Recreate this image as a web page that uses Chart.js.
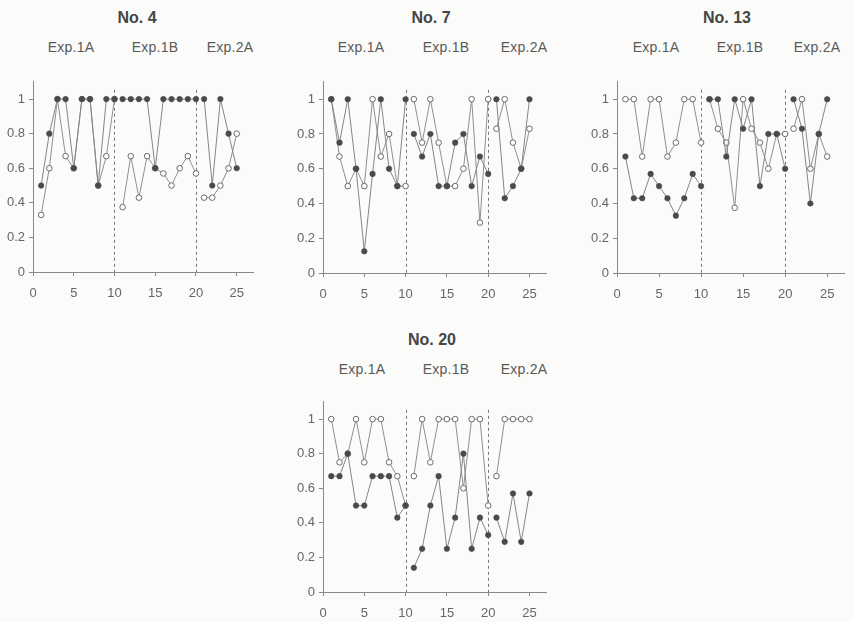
<!DOCTYPE html>
<html><head><meta charset="utf-8">
<script src="https://cdn.jsdelivr.net/npm/chart.js@4"></script>
<style>
body{margin:0;background:#fbfbf9;width:853px;height:622px;overflow:hidden;position:relative;font-family:"Liberation Sans",Arial,sans-serif;}
.t{position:absolute;transform:translate(-50%,-50%);color:#5a5a5a;font-size:14px;letter-spacing:0.2px;white-space:nowrap}
.h{font-weight:bold;font-size:16px;color:#454545;letter-spacing:0}
canvas{position:absolute}
</style></head><body>
<script>
const trials = [1,2,3,4,5,6,7,8,9,10,11,12,13,14,15,16,17,18,19,20,21,22,23,24,25];
const xTickValues = [0,5,10,15,20,25];
const yTickValues = [0,0.2,0.4,0.6,0.8,1];
const segmentEnds = [10,20];
const expLabels = ["Exp.1A","Exp.1B","Exp.2A"];

const no4Filled = [0.5,0.8,1,1,0.6,1,1,0.5,1,1, 1,1,1,1,0.6,1,1,1,1,1, 1,0.5,1,0.8,0.6];
const no4Open   = [0.33,0.6,1,0.67,0.6,1,1,0.5,0.67,1, 0.375,0.67,0.43,0.67,0.6,0.57,0.5,0.6,0.67,0.57, 0.43,0.43,0.5,0.6,0.8];

const no7Filled = [1,0.75,1,0.6,0.125,0.57,1,0.6,0.5,1, 0.8,0.67,0.8,0.5,0.5,0.75,0.8,0.5,0.67,0.57, 1,0.43,0.5,0.6,1];
const no7Open   = [1,0.67,0.5,0.6,0.5,1,0.67,0.8,0.5,0.5, 1,0.75,1,0.75,0.5,0.5,0.6,1,0.29,1, 0.83,1,0.75,0.6,0.83];

const no13Filled = [0.67,0.43,0.43,0.57,0.5,0.43,0.33,0.43,0.57,0.5, 1,1,0.67,1,0.83,1,0.5,0.8,0.8,0.6, 1,0.83,0.4,0.8,1];
const no13Open   = [1,1,0.67,1,1,0.67,0.75,1,1,0.75, 1,0.83,0.75,0.375,1,0.83,0.75,0.6,0.8,0.8, 0.83,1,0.6,0.8,0.67];

const no20Filled = [0.67,0.67,0.8,0.5,0.5,0.67,0.67,0.67,0.43,0.5, 0.14,0.25,0.5,0.67,0.25,0.43,0.8,0.25,0.43,0.33, 0.43,0.29,0.57,0.29,0.57];
const no20Open   = [1,0.75,0.8,1,0.75,1,1,0.75,0.67,0.5, 0.67,1,0.75,1,1,1,0.6,1,1,0.5, 0.67,1,1,1,1];

const panels = [
  {title:"No. 4",  filled:no4Filled,  open:no4Open,  L:33,  R:253, T:75,  B:272, tx:137, ty:18,  ex:[71,155,230],  ey:47},
  {title:"No. 7",  filled:no7Filled,  open:no7Open,  L:323, R:546, T:75,  B:273, tx:431, ty:18,  ex:[361,446,524], ey:47},
  {title:"No. 13", filled:no13Filled, open:no13Open, L:617, R:844, T:75,  B:273, tx:727, ty:18,  ex:[656,740,817], ey:47},
  {title:"No. 20", filled:no20Filled, open:no20Open, L:323, R:546, T:395, B:592, tx:432, ty:340, ex:[362,446,524], ey:369}
];

function withGaps(vals){
  const pts = [];
  trials.forEach((x,i)=>{
    pts.push({x:x, y:vals[i]});
    if (segmentEnds.includes(x)) pts.push({x:x+0.5, y:null});
  });
  return pts;
}

const dashPlugin = {
  id:'dash',
  beforeDatasetsDraw(chart){
    const {ctx, chartArea, scales} = chart;
    ctx.save();
    ctx.strokeStyle = '#777';
    ctx.lineWidth = 1;
    ctx.setLineDash([3,3]);
    segmentEnds.forEach(v=>{
      const px = Math.round(scales.x.getPixelForValue(v)) + 0.5;
      ctx.beginPath();
      ctx.moveTo(px, chartArea.top + 8);
      ctx.lineTo(px, chartArea.bottom);
      ctx.stroke();
    });
    ctx.restore();
  }
};

function addText(txt, x, y, cls){
  const d = document.createElement('div');
  d.className = cls;
  d.textContent = txt;
  d.style.left = x + 'px';
  d.style.top = y + 'px';
  document.body.appendChild(d);
}

const tickFont = {size:13, family:'"Liberation Sans", Arial, sans-serif'};
const padL = 40, padT = 5, padB = 35, padR = 8;
panels.forEach(p=>{
  addText(p.title, p.tx, p.ty, 't h');
  expLabels.forEach((e,i)=>addText(e, p.ex[i], p.ey, 't'));
  const c = document.createElement('canvas');
  const w = (p.R - p.L) + padL + padR;
  const h = (p.B - p.T) + padT + padB;
  c.width = w; c.height = h;
  c.style.left = (p.L - padL) + 'px';
  c.style.top = (p.T - padT) + 'px';
  c.style.width = w + 'px'; c.style.height = h + 'px';
  document.body.appendChild(c);
  new Chart(c, {
    type:'line',
    data:{datasets:[
      {data:withGaps(p.filled), borderColor:'#858585', borderWidth:1, pointRadius:2.8, pointBackgroundColor:'#4a4a4a', pointBorderColor:'#4a4a4a', pointBorderWidth:0.5, spanGaps:false, tension:0},
      {data:withGaps(p.open), borderColor:'#8f8f8f', borderWidth:1, pointRadius:2.8, pointBackgroundColor:'#ffffff', pointBorderColor:'#6a6a6a', pointBorderWidth:1, spanGaps:false, tension:0}
    ]},
    options:{
      responsive:false, animation:false, devicePixelRatio:1,
      layout:{padding:{left:0,right:padR,top:padT,bottom:0}},
      plugins:{legend:{display:false}, tooltip:{enabled:false}},
      scales:{
        x:{type:'linear', min:0, max:27,
           afterFit:s=>{s.height = padB;},
           afterBuildTicks:s=>{s.ticks = xTickValues.map(v=>({value:v}));},
           ticks:{color:'#666', font:tickFont, padding:10, maxRotation:0, autoSkip:false},
           grid:{drawOnChartArea:false, drawTicks:true, tickLength:4, color:'#888'},
           border:{color:'#888'}},
        y:{type:'linear', min:0, max:1.1,
           afterFit:s=>{s.width = padL;},
           afterBuildTicks:s=>{s.ticks = yTickValues.map(v=>({value:v}));},
           ticks:{color:'#666', font:tickFont, padding:4, callback:v=>String(v)},
           grid:{drawOnChartArea:false, drawTicks:true, tickLength:4, color:'#888'},
           border:{color:'#888'}}
      }
    },
    plugins:[dashPlugin]
  });
});
</script>
</body></html>
